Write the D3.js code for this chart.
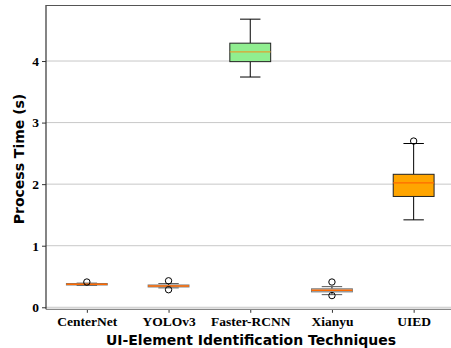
<!DOCTYPE html>
<html><head><meta charset="utf-8">
<script src="https://cdn.jsdelivr.net/npm/d3@7"></script>
<style>body{margin:0;background:#fff}svg{display:block}
.tk text{font-family:"Liberation Serif","Times New Roman","DejaVu Serif",serif !important;font-weight:bold;font-size:13.5px;fill:#000}
.lab{font-family:"DejaVu Sans",sans-serif;font-weight:bold;font-size:14px}
</style>
</head><body><svg id="c" width="451" height="348"></svg>
<script>
const categories = ["CenterNet","YOLOv3","Faster-RCNN","Xianyu","UIED"];
const whiskerLow  = [0.355, 0.315, 3.74, 0.205, 1.42];
const q1          = [0.362, 0.330, 3.99, 0.250, 1.80];
const median      = [0.374, 0.346, 4.15, 0.276, 2.02];
const q3          = [0.386, 0.362, 4.29, 0.300, 2.16];
const whiskerHigh = [0.392, 0.385, 4.68, 0.335, 2.66];
const outliers    = [[0.41],[0.43,0.285],[],[0.41,0.19],[2.70]];
const boxFill     = ["#c8c8c8","#c8c8c8","#90ee90","#c8c8c8","#ffa500"];
const yTicks = [0,1,2,3,4];

const svg = d3.select("#c");
const L = 46, T = 5, B = 309.3;
const x = d3.scaleLinear().domain([0.5,5.5]).range([L, L + 5*81.7]);
const y = d3.scaleLinear().domain([-0.033, 4.91]).range([B, T]);

// grid
svg.append("g").selectAll("line").data(yTicks).join("line")
  .attr("x1", L).attr("x2", 451).attr("y1", d=>y(d)).attr("y2", d=>y(d))
  .attr("stroke", "#c8c8c8").attr("stroke-width", 1);

// boxes
const bw = 0.5;
categories.forEach((c,i)=>{
  const cx = x(i+1), hw = (x(1+bw/2)-x(1));
  const g = svg.append("g");
  g.append("line").attr("x1",cx).attr("x2",cx).attr("y1",y(whiskerLow[i])).attr("y2",y(q1[i])).attr("stroke","#000");
  g.append("line").attr("x1",cx).attr("x2",cx).attr("y1",y(q3[i])).attr("y2",y(whiskerHigh[i])).attr("stroke","#000");
  const cap = hw/2;
  [whiskerLow[i], whiskerHigh[i]].forEach(v=>g.append("line").attr("x1",cx-cap).attr("x2",cx+cap).attr("y1",y(v)).attr("y2",y(v)).attr("stroke", i===2||i===4 ? "#000" : "#555"));
  g.append("rect").attr("x",cx-hw).attr("width",2*hw).attr("y",y(q3[i])).attr("height",Math.max(0.5,y(q1[i])-y(q3[i])))
    .attr("fill",boxFill[i]).attr("stroke", i===2||i===4 ? "#222" : "#777").attr("stroke-width",1);
  g.append("line").attr("x1",cx-hw).attr("x2",cx+hw).attr("y1",y(median[i])).attr("y2",y(median[i]))
    .attr("stroke", i===2 ? "#e0a030" : "#ff6a00").attr("stroke-width", i===2||i===4 ? 1.2 : 1.6);
  g.selectAll("circle").data(outliers[i]).join("circle").attr("cx",cx).attr("cy",d=>y(d)).attr("r",3.2)
    .attr("fill","none").attr("stroke","#000").attr("stroke-width",1);
});

// axes
const ya = d3.axisLeft(y).tickValues(yTicks).tickFormat(d3.format("d")).tickSize(4).tickPadding(3);
const yg = svg.append("g").attr("class","tk").attr("transform",`translate(${L},0)`).call(ya);
yg.attr("font-family",null).attr("font-size",null);
yg.select(".domain").remove();
yg.selectAll(".tick line").attr("stroke","#333");
svg.append("line").attr("x1",L).attr("x2",L).attr("y1",T).attr("y2",B).attr("stroke","#333").attr("stroke-width",1.2);
svg.append("line").attr("x1",L).attr("x2",451).attr("y1",T+0.5).attr("y2",T+0.5).attr("stroke","#555").attr("stroke-width",1.2);

const xa = d3.axisBottom(x).tickValues([1,2,3,4,5]).tickFormat((d,i)=>categories[i]).tickSize(3.5).tickPadding(4);
const xg = svg.append("g").attr("class","tk").attr("transform",`translate(0,${B})`).call(xa);
xg.attr("font-family",null).attr("font-size",null);
xg.select(".domain").remove();
xg.selectAll(".tick line").attr("stroke","#333");
svg.append("line").attr("x1",L).attr("x2",451).attr("y1",B).attr("y2",B).attr("stroke","#888").attr("stroke-width",1.2);

svg.append("text").attr("class","lab").attr("x",251).attr("y",345).attr("text-anchor","middle")
  .text("UI-Element Identification Techniques");
svg.append("text").attr("class","lab").attr("transform","translate(24,159) rotate(-90)").attr("text-anchor","middle")
  .text("Process Time (s)");
</script></body></html>
